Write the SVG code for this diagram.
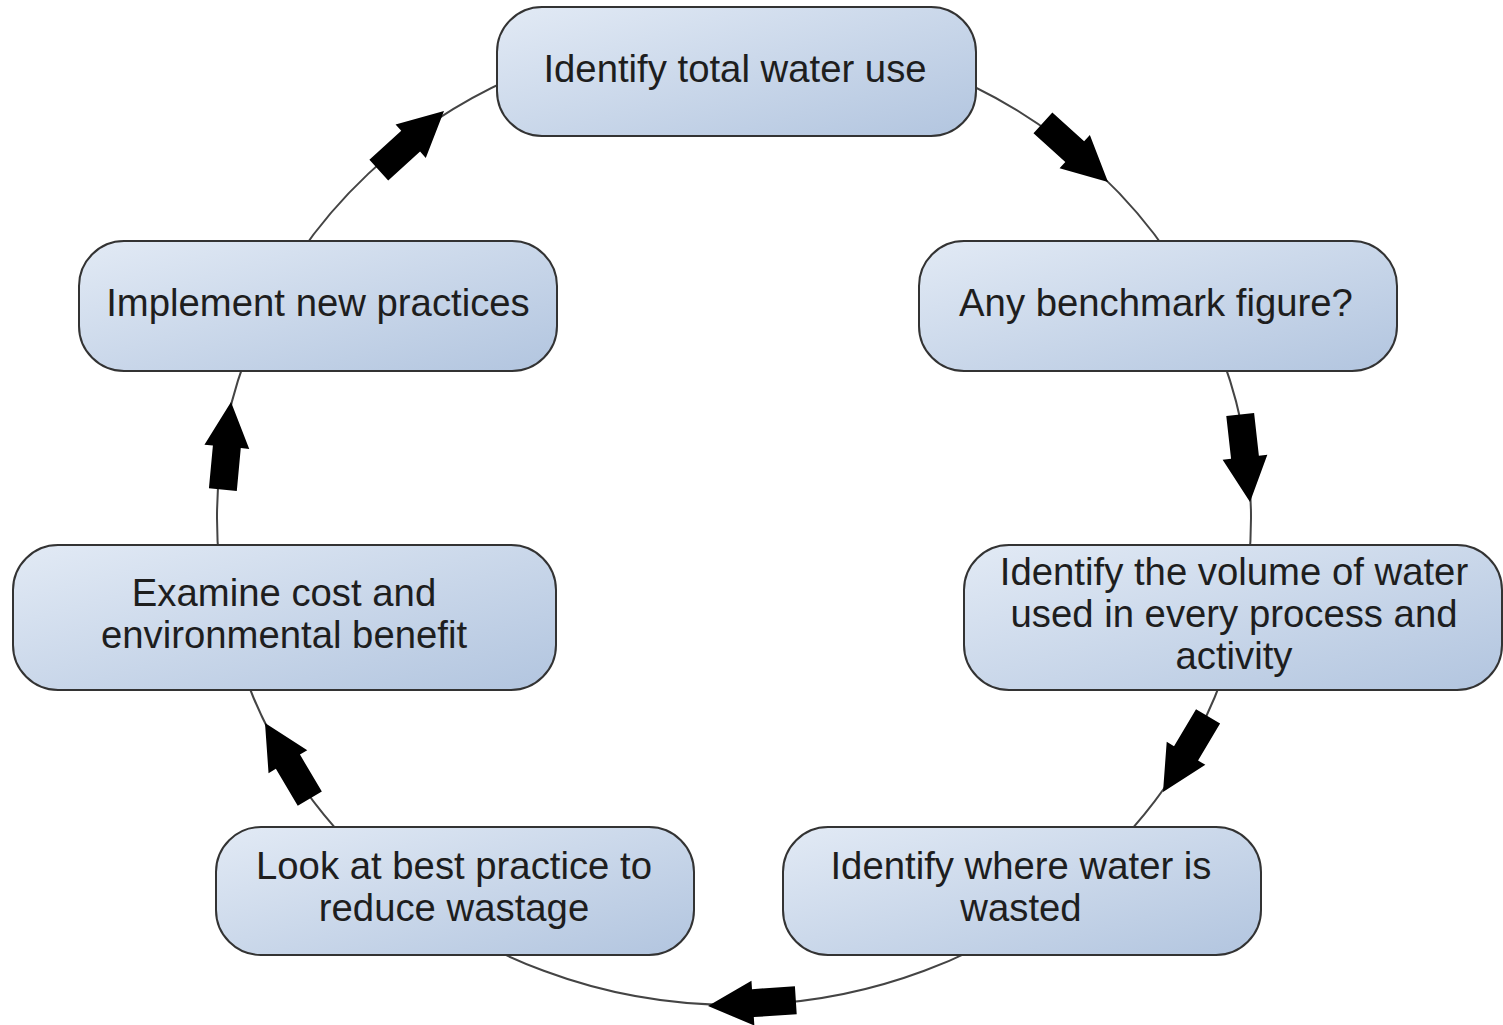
<svg xmlns="http://www.w3.org/2000/svg" width="1503" height="1025" viewBox="0 0 1503 1025">
<defs>
<linearGradient id="g" x1="0" y1="0" x2="1" y2="1">
<stop offset="0" stop-color="#e2eaf5"/>
<stop offset="1" stop-color="#b2c5df"/>
</linearGradient>
<polygon id="arr" points="-88,-14 -45,-14 -45,-22.5 0,0 -45,22.5 -45,14 -88,14"/>
</defs>
<style>
.node rect{fill:url(#g);stroke:#333;stroke-width:2}
.node text{font-family:"Liberation Sans",Arial,sans-serif;font-size:38.3px;fill:#1e1e1e;text-anchor:middle}
.ring{fill:none;stroke:#444;stroke-width:2}
.arrows use{fill:#000}
</style>
<rect width="1503" height="1025" fill="#fff"/>
<g id="connectors">
<ellipse class="ring" cx="734" cy="518" rx="517" ry="487"/>
<g class="arrows">
<use href="#arr" transform="translate(1108,182) rotate(42.3)"/>
<use href="#arr" transform="translate(1250,502) rotate(83.6)"/>
<use href="#arr" transform="translate(1163,792) rotate(120.8)"/>
<use href="#arr" transform="translate(708,1006) rotate(176.3)"/>
<use href="#arr" transform="translate(265,723) rotate(-120.6)"/>
<use href="#arr" transform="translate(231,402) rotate(-84.7)"/>
<use href="#arr" transform="translate(444,111) rotate(-42.2)"/>
</g>
</g>
<g id="n1" class="node">
<rect x="497" y="7" width="479" height="129" rx="45"/>
<text x="735" y="82">Identify total water use</text>
</g>
<g id="n2" class="node">
<rect x="919" y="241" width="478" height="130" rx="45"/>
<text x="1156" y="316">Any benchmark figure?</text>
</g>
<g id="n3" class="node">
<rect x="964" y="545" width="538" height="145" rx="45"/>
<text x="1234" y="585">Identify the volume of water</text>
<text x="1234" y="627">used in every process and</text>
<text x="1234" y="669">activity</text>
</g>
<g id="n4" class="node">
<rect x="783" y="827" width="478" height="128" rx="45"/>
<text x="1021" y="879">Identify where water is</text>
<text x="1021" y="921">wasted</text>
</g>
<g id="n5" class="node">
<rect x="216" y="827" width="478" height="128" rx="45"/>
<text x="454" y="879">Look at best practice to</text>
<text x="454" y="921">reduce wastage</text>
</g>
<g id="n6" class="node">
<rect x="13" y="545" width="543" height="145" rx="45"/>
<text x="284" y="606">Examine cost and</text>
<text x="284" y="648">environmental benefit</text>
</g>
<g id="n7" class="node">
<rect x="79" y="241" width="478" height="130" rx="45"/>
<text x="318" y="316">Implement new practices</text>
</g>
</svg>
